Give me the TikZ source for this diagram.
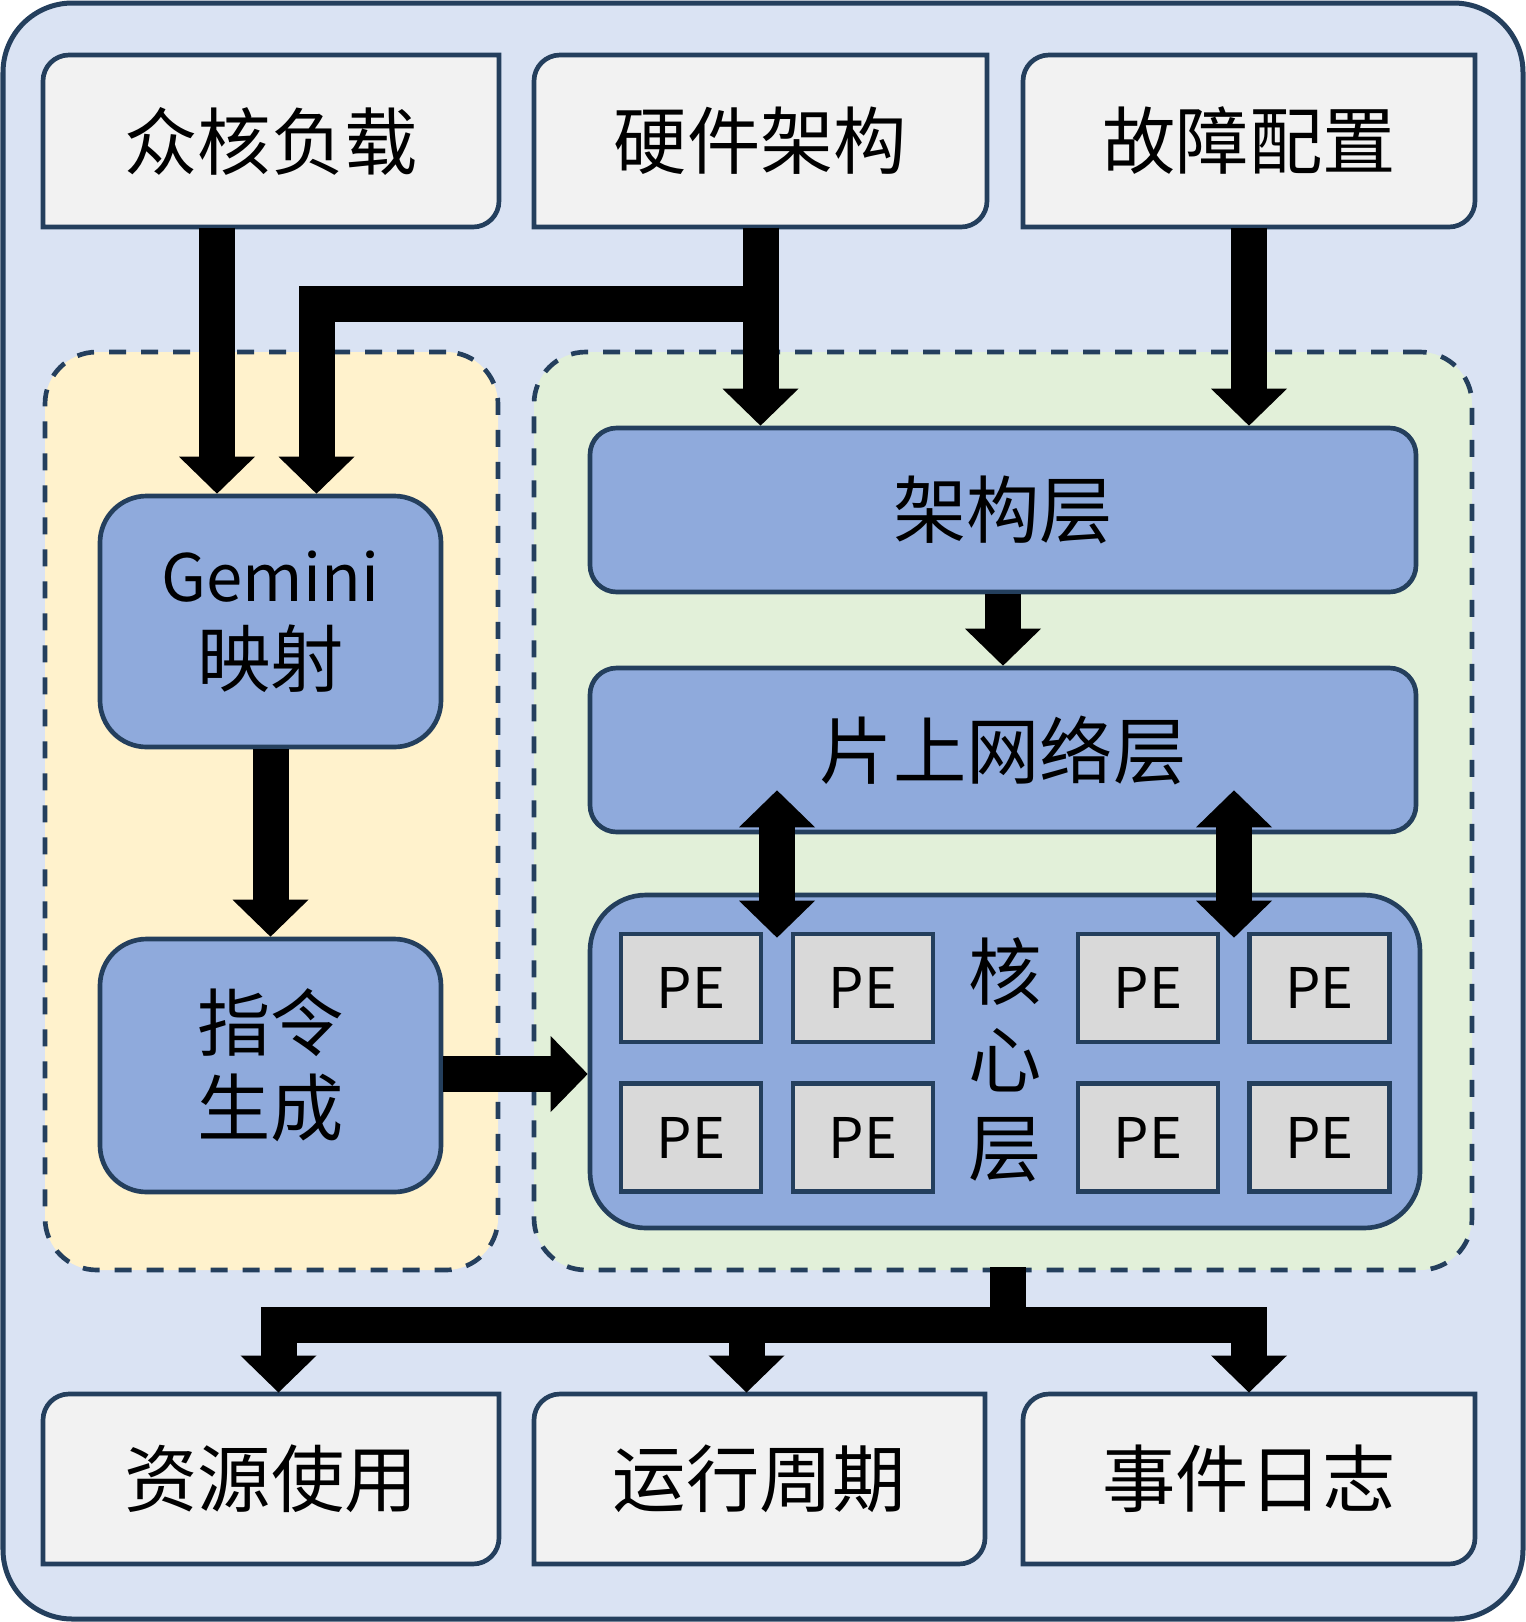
\documentclass[tikz,border=0pt]{standalone}
\usepackage{fontspec}
\newfontfamily\cjk{Noto Sans CJK SC}
\usetikzlibrary{arrows.meta,calc}

\definecolor{frameblue}{RGB}{218,227,243}
\definecolor{edgeblue}{RGB}{36,63,93}
\definecolor{iogray}{RGB}{242,242,242}
\definecolor{zoneyellow}{RGB}{255,242,204}
\definecolor{zonegreen}{RGB}{226,240,217}
\definecolor{layerblue}{RGB}{143,170,220}
\definecolor{pegray}{RGB}{217,217,217}

\tikzset{every picture/.style={line width=0.75pt}}
\tikzset{
	txt/.style={font=\cjk\fontsize{55}{64}\selectfont,align=center,inner sep=0pt},
	frame/.style={draw=edgeblue,fill=frameblue,line width=3.75pt,rounded corners=52pt},
	ioframe/.style={draw=edgeblue,fill=iogray,line width=3.5pt},
	iobox/.style={txt,minimum width=340pt,minimum height=129pt},
	zone/.style={draw=edgeblue,line width=3.5pt,dash pattern=on 12.75pt off 11.25pt,rounded corners=39pt,minimum height=688.5pt},
	layer/.style={txt,draw=edgeblue,fill=layerblue,line width=3.5pt},
	pebox/.style={draw=edgeblue,fill=pegray,line width=3.3pt,minimum width=105pt,minimum height=81pt,inner sep=0pt,font=\cjk\fontsize{42}{50}\selectfont},
	fat/.style={line width=27pt,line join=miter},
	fathead/.tip={Triangle[width=57pt,length=27.75pt,line width=0pt]},
	fatarrow/.style={fat,-fathead},
	fatboth/.style={fat,fathead-fathead},
}

% box with two rounded corners (top left, bottom right)
\newcommand{\ioshape}[4]{\draw[ioframe] (#1+26,#2) -- (#3,#2) -- (#3,#4-26) arc[start angle=0,end angle=90,radius=26] -- (#1,#4) -- (#1,#2+26) arc[start angle=180,end angle=270,radius=26] -- cycle;}

\begin{document}
\begin{tikzpicture}[x=0.75pt,y=0.75pt,yscale=-1,xscale=1]
		\useasboundingbox (0,0) rectangle (1526,1622);

		%Shape: Rounded Rectangle (background)
		\draw[frame] (3,3) rectangle (1523,1619);

		%Shape: input boxes
		\ioshape{43}{55}{499}{227}
		\ioshape{534}{55}{987}{227}
		\ioshape{1023}{55}{1475}{227}
		\node[iobox] (load) at (271,141) {众核负载};
		\node[iobox] (hw) at (760.5,141) {硬件架构};
		\node[iobox] (fault) at (1249,141) {故障配置};

		%Shape: output boxes
		\ioshape{43}{1394}{499}{1564}
		\ioshape{534}{1394}{985}{1564}
		\ioshape{1023}{1394}{1475}{1564}
		\node[iobox] (res) at (271,1479) {资源使用};
		\node[iobox] (cyc) at (759.5,1479) {运行周期};
		\node[iobox] (log) at (1249,1479) {事件日志};

		%Shape: dashed zones
		\node[zone,fill=zoneyellow,minimum width=339.75pt] (mapzone) at (271.5,811) {};
		\node[zone,fill=zonegreen,minimum width=703.5pt] (simzone) at (1003,811) {};

		%Shape: mapping side
		\node[layer,rounded corners=35pt,minimum width=255.75pt,minimum height=188.25pt] (gem) at (270.5,621.5) {{\fontsize{49}{64}\selectfont Gemini}\\映射};
		\node[layer,rounded corners=35pt,minimum width=255.75pt,minimum height=189.75pt] (ins) at (270.5,1065.5) {指令\\生成};

		%Shape: simulator layers
		\node[layer,rounded corners=20pt,minimum width=619.5pt,minimum height=123pt] (arch) at (1003,510) {架构层};
		\node[layer,rounded corners=20pt,minimum width=619.5pt,minimum height=123pt] (noc) at (1003,750) {片上网络层};
		\node[layer,rounded corners=42pt,minimum width=622.5pt,minimum height=249.75pt] (core) at (1005,1061.5) {};
		\node[txt,font=\cjk\fontsize{55}{66}\selectfont] (corename) at (1005,1060) {核\\心\\层};
		\foreach \px [count=\i] in {691,863,1148,1319.5}{
			\foreach \py [count=\j] in {988,1137.5}{
				\node[pebox] (pe\i\j) at (\px,\py) {PE};
			}
		}

		%Straight Lines: inputs
		\draw[fatarrow] ($(load.south)+(-54,0)$) -- ($(gem.north)+(-53.5,0)$);
		\draw[fatarrow] (hw.south) -- (hw.south |- arch.north);
		\draw[fatarrow] ($(hw.south)+(0,76.5)$) -| ($(gem.north)+(46,0)$);
		\draw[fatarrow] (fault.south) -- (fault.south |- arch.north);

		%Straight Lines: inside
		\draw[fatarrow] (gem) -- (ins);
		\draw[fatarrow] (arch) -- (noc);
		\draw[fatarrow] ($(ins.east)+(0,8.5)$) coordinate (insout) -- (insout -| core.west);
		\path (noc.south) ++(-226,-44) coordinate (nocL) (noc.south) ++(231,-44) coordinate (nocR) (core.north) ++(0,45) coordinate (coreN);
		\draw[fatboth] (nocL) -- (nocL |- coreN);
		\draw[fatboth] (nocR) -- (nocR |- coreN);

		%Straight Lines: outputs
		\path (simzone.south) ++(4.5,-5) coordinate (outstub) ++(0,58) coordinate (outbar);
		\draw[fatarrow] (outstub) -- (outbar) -| ($(res.north)+(7.5,0)$);
		\draw[fatarrow] (outbar) -| ($(cyc.north)+(-13,0)$);
		\draw[fatarrow] (outbar) -| (log.north);

\end{tikzpicture}
\end{document}
